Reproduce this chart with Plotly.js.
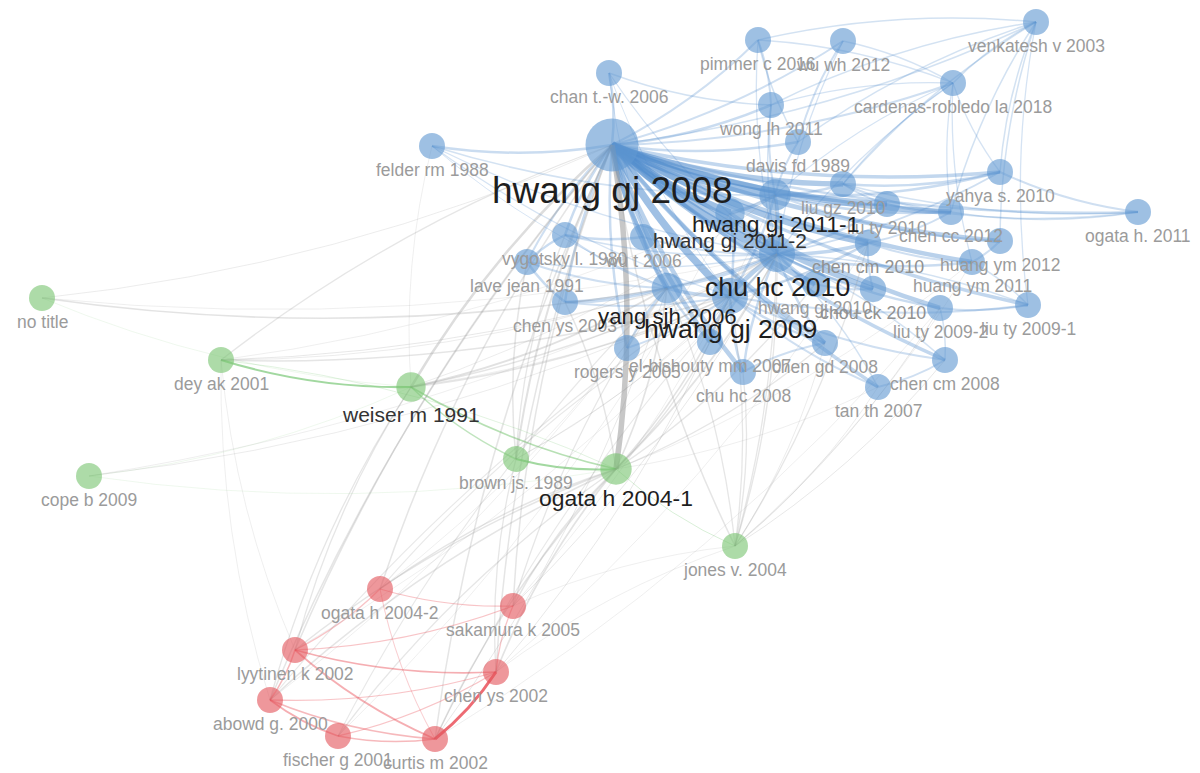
<!DOCTYPE html>
<html>
<head>
<meta charset="utf-8">
<script src="https://cdn.plot.ly/plotly-3.0.1.min.js"></script>
<style>html,body{margin:0;padding:0;background:#fff;}#chart{width:1200px;height:773px;}</style>
</head>
<body>
<div id="chart"></div>
<script>
// ---- data: nodes (map coordinates), weights, clusters ----
const nodeLabels = [
  "hwang gj 2008","felder rm 1988","chan t.-w. 2006","pimmer c 2016","wu wh 2012","venkatesh v 2003",
  "cardenas-robledo la 2018","wong lh 2011","davis fd 1989","yahya s. 2010","ogata h. 2011",
  "hwang gj 2011-1","hwang gj 2011-2","liu gz 2010","liu ty 2010","chen cc 2012","chen cm 2010",
  "huang ym 2012","huang ym 2011","chu hc 2010","hwang gj 2010","chou ck 2010","liu ty 2009-2",
  "liu ty 2009-1","chen cm 2008","tan th 2007","chen gd 2008","chu hc 2008","el-bishouty mm 2007",
  "hwang gj 2009","yang sjh 2006","rogers y 2005","chen ys 2003","lave jean 1991","vygotsky l. 1980",
  "wu t 2006",
  "no title","dey ak 2001","weiser m 1991","cope b 2009","brown js. 1989","ogata h 2004-1","jones v. 2004",
  "ogata h 2004-2","sakamura k 2005","lyytinen k 2002","chen ys 2002","abowd g. 2000","fischer g 2001","curtis m 2002"
];
const nodeX = [
  612,432,609,758,843,1036,
  953,771,798,1000,1138,
  775,730,843,887,951,868,
  1000,972,777,815,873,940,
  1028,945,878,825,743,710,
  730,667,627,565,527,565,
  643,
  42,221,411,89,516,616,735,
  380,513,295,496,270,338,435
];
const nodeY = [
  145,146,73,40,41,22,
  83,105,142,172,212,
  195,213,184,204,212,243,
  241,262,254,284,289,308,
  305,360,387,343,372,342,
  296,288,348,302,262,235,
  237,
  298,360,387,476,459,469,546,
  589,606,650,672,700,736,739
];
const nodeWeight = [
  100,20,20,20,20,20,
  20,20,20,20,20,
  36,30,20,20,20,21,
  20,20,50,20,21,20,
  20,20,20,20,20,20,
  50,34,20,20,20,20,
  20,
  20,20,30,20,20,36,20,
  20,20,20,20,20,20,20
];
const nodeCluster = [
  1,1,1,1,1,1,
  1,1,1,1,1,
  1,1,1,1,1,1,
  1,1,1,1,1,1,
  1,1,1,1,1,1,
  1,1,1,1,1,1,
  1,
  2,2,2,2,2,2,2,
  3,3,3,3,3,3,3
];

// ---- data: links [source, target, strength] ----
const links = [
  ["hwang gj 2008","hwang gj 2011-1",8],["hwang gj 2008","hwang gj 2011-2",7],["hwang gj 2008","chu hc 2010",8],
  ["hwang gj 2008","hwang gj 2009",7],["hwang gj 2008","yang sjh 2006",5],["hwang gj 2008","liu gz 2010",5],
  ["hwang gj 2008","liu ty 2010",5],["hwang gj 2008","chen cc 2012",5],["hwang gj 2008","chen cm 2010",6],
  ["hwang gj 2008","huang ym 2012",4],["hwang gj 2008","huang ym 2011",4],["hwang gj 2008","chou ck 2010",5],
  ["hwang gj 2008","liu ty 2009-2",4],["hwang gj 2008","liu ty 2009-1",3],["hwang gj 2008","chen gd 2008",4],
  ["hwang gj 2008","chen cm 2008",3],["hwang gj 2008","tan th 2007",3],["hwang gj 2008","chu hc 2008",4],
  ["hwang gj 2008","el-bishouty mm 2007",4],["hwang gj 2008","hwang gj 2010",5],["hwang gj 2008","yahya s. 2010",3],
  ["hwang gj 2008","ogata h. 2011",2],["hwang gj 2008","davis fd 1989",2],["hwang gj 2008","wong lh 2011",2],
  ["felder rm 1988","hwang gj 2008",2],["hwang gj 2008","chan t.-w. 2006",2],["hwang gj 2008","vygotsky l. 1980",2],
  ["hwang gj 2008","lave jean 1991",1.5],["hwang gj 2008","chen ys 2003",2],["hwang gj 2008","rogers y 2005",2],
  ["hwang gj 2008","wu t 2006",3],["hwang gj 2008","pimmer c 2016",1.5],["hwang gj 2008","wu wh 2012",1.5],
  ["hwang gj 2008","cardenas-robledo la 2018",1.5],["hwang gj 2008","venkatesh v 2003",1],
  ["ogata h 2004-1","hwang gj 2008",5],["hwang gj 2008","weiser m 1991",2],["hwang gj 2008","brown js. 1989",1.5],
  ["hwang gj 2008","jones v. 2004",1],["hwang gj 2008","lyytinen k 2002",1],["hwang gj 2008","chen ys 2002",1],
  ["hwang gj 2008","curtis m 2002",1],["hwang gj 2008","abowd g. 2000",1],["hwang gj 2008","ogata h 2004-2",1],
  ["hwang gj 2008","sakamura k 2005",1],["hwang gj 2008","dey ak 2001",0.8],
  ["chu hc 2010","hwang gj 2009",4],["chu hc 2010","hwang gj 2011-1",3],["chu hc 2010","hwang gj 2011-2",3],
  ["yang sjh 2006","chu hc 2010",2],["chu hc 2010","chen cm 2010",3],["chu hc 2010","liu ty 2010",2],
  ["chu hc 2010","chou ck 2010",2],["chu hc 2010","hwang gj 2010",3],["chu hc 2010","huang ym 2011",2],
  ["chu hc 2010","liu ty 2009-2",2],["chu hc 2010","chen gd 2008",2],["chu hc 2010","el-bishouty mm 2007",2],
  ["chu hc 2010","chu hc 2008",2],["vygotsky l. 1980","chu hc 2010",1],["lave jean 1991","chu hc 2010",1],
  ["chen ys 2003","chu hc 2010",1.5],["chu hc 2010","yahya s. 2010",1.5],["wu t 2006","chu hc 2010",1.5],
  ["yang sjh 2006","hwang gj 2009",3],["hwang gj 2009","hwang gj 2011-1",2],["hwang gj 2009","hwang gj 2011-2",2],
  ["hwang gj 2009","chen cm 2010",2],["hwang gj 2009","el-bishouty mm 2007",2],["hwang gj 2009","chu hc 2008",2],
  ["hwang gj 2009","chen gd 2008",2],["hwang gj 2009","tan th 2007",1.5],["hwang gj 2009","chen cm 2008",1.5],
  ["hwang gj 2009","liu ty 2009-1",1.5],["chen ys 2003","hwang gj 2009",1.5],["rogers y 2005","hwang gj 2009",1.5],
  ["hwang gj 2011-1","liu gz 2010",2],["hwang gj 2011-1","liu ty 2010",2],["hwang gj 2011-1","chen cc 2012",2],
  ["hwang gj 2011-1","yahya s. 2010",2],["hwang gj 2011-1","huang ym 2012",1.5],["hwang gj 2011-2","hwang gj 2011-1",3],
  ["davis fd 1989","hwang gj 2011-1",1.5],["wong lh 2011","hwang gj 2011-1",1.5],
  ["chen ys 2003","yang sjh 2006",2],["vygotsky l. 1980","yang sjh 2006",1.5],["lave jean 1991","yang sjh 2006",1.5],
  ["wu t 2006","yang sjh 2006",2],["yang sjh 2006","rogers y 2005",2],["yang sjh 2006","el-bishouty mm 2007",2],
  ["liu gz 2010","yahya s. 2010",2],["liu gz 2010","liu ty 2010",1.5],["liu gz 2010","chen cc 2012",1.5],
  ["liu gz 2010","ogata h. 2011",1],["vygotsky l. 1980","lave jean 1991",2],["vygotsky l. 1980","wu t 2006",2],
  ["lave jean 1991","chen ys 2003",2],["wong lh 2011","pimmer c 2016",1.5],["wu wh 2012","davis fd 1989",1.5],
  ["pimmer c 2016","davis fd 1989",1],["chan t.-w. 2006","wong lh 2011",1],["felder rm 1988","hwang gj 2011-1",1],
  ["yahya s. 2010","ogata h. 2011",1.5],["chen cc 2012","ogata h. 2011",1],["liu ty 2010","ogata h. 2011",1],
  ["venkatesh v 2003","davis fd 1989",1],["venkatesh v 2003","cardenas-robledo la 2018",1],["venkatesh v 2003","liu gz 2010",1],
  ["venkatesh v 2003","chen cc 2012",1],["venkatesh v 2003","yahya s. 2010",1],["venkatesh v 2003","huang ym 2012",1],
  ["venkatesh v 2003","wong lh 2011",1],["venkatesh v 2003","pimmer c 2016",1],["venkatesh v 2003","liu ty 2009-1",0.8],
  ["cardenas-robledo la 2018","hwang gj 2011-1",0.8],["cardenas-robledo la 2018","chu hc 2010",0.8],
  ["cardenas-robledo la 2018","liu gz 2010",0.8],["cardenas-robledo la 2018","yahya s. 2010",0.8],
  ["cardenas-robledo la 2018","wong lh 2011",0.8],["cardenas-robledo la 2018","pimmer c 2016",0.8],
  ["cardenas-robledo la 2018","wu wh 2012",0.8],["cardenas-robledo la 2018","chen cc 2012",0.8],
  ["cardenas-robledo la 2018","huang ym 2011",0.8],["tan th 2007","chen cm 2008",1.5],["chen gd 2008","chu hc 2008",1.5],
  ["liu ty 2009-2","liu ty 2009-1",1.5],["huang ym 2011","huang ym 2012",1.5],["liu ty 2009-1","huang ym 2011",1],
  ["chen cm 2008","liu ty 2009-2",1],["chen cm 2010","chou ck 2010",1.5],["hwang gj 2010","chou ck 2010",1.5],
  ["chen cm 2010","chen cc 2012",1.5],["chen cm 2010","huang ym 2011",1.5],["liu ty 2010","chen cc 2012",1.5],
  ["wu wh 2012","chu hc 2010",0.8],["pimmer c 2016","chu hc 2010",0.8],["wong lh 2011","chu hc 2010",1],
  ["tan th 2007","chu hc 2010",1],["chen cm 2008","chu hc 2010",1],["liu ty 2009-1","chu hc 2010",1],
  ["chan t.-w. 2006","chu hc 2010",0.8],["felder rm 1988","chu hc 2010",0.8],["felder rm 1988","hwang gj 2009",0.8],
  ["no title","yang sjh 2006",1.2],["dey ak 2001","hwang gj 2009",1],["dey ak 2001","weiser m 1991",1.6],
  ["weiser m 1991","yang sjh 2006",1.5],["weiser m 1991","chu hc 2010",1],["weiser m 1991","hwang gj 2009",1],
  ["weiser m 1991","ogata h 2004-1",1.2],["weiser m 1991","brown js. 1989",1],
  ["brown js. 1989","ogata h 2004-1",1.6],["vygotsky l. 1980","brown js. 1989",0.8],["lave jean 1991","brown js. 1989",1],
  ["ogata h 2004-1","hwang gj 2009",1.2],["ogata h 2004-1","chu hc 2010",1.2],["ogata h 2004-1","yang sjh 2006",1.2],
  ["ogata h 2004-1","chen ys 2003",1],["ogata h 2004-1","el-bishouty mm 2007",1],["ogata h 2004-1","jones v. 2004",0.5],
  ["ogata h 2004-1","dey ak 2001",0.4],["ogata h 2004-1","hwang gj 2010",0.8],["ogata h 2004-1","chen gd 2008",0.8],
  ["jones v. 2004","chu hc 2010",0.8],["jones v. 2004","hwang gj 2009",0.8],["jones v. 2004","chen cm 2010",0.8],
  ["jones v. 2004","hwang gj 2011-1",0.8],["jones v. 2004","chu hc 2008",0.8],["jones v. 2004","yang sjh 2006",0.8],
  ["ogata h 2004-1","lyytinen k 2002",1],["ogata h 2004-1","abowd g. 2000",1],["ogata h 2004-1","curtis m 2002",1],
  ["ogata h 2004-1","chen ys 2002",1.2],["ogata h 2004-1","sakamura k 2005",1],["ogata h 2004-1","fischer g 2001",0.8],
  ["ogata h 2004-1","ogata h 2004-2",1],["brown js. 1989","chen ys 2002",0.8],["weiser m 1991","lyytinen k 2002",0.8],
  ["weiser m 1991","abowd g. 2000",0.8],["yang sjh 2006","sakamura k 2005",0.8],["chu hc 2010","curtis m 2002",0.6],
  ["hwang gj 2009","ogata h 2004-2",0.6],["yang sjh 2006","fischer g 2001",0.6],["chu hc 2010","abowd g. 2000",0.6],
  ["lyytinen k 2002","chen ys 2002",1.2],["lyytinen k 2002","curtis m 2002",1.2],["abowd g. 2000","fischer g 2001",1.2],
  ["abowd g. 2000","curtis m 2002",1],["fischer g 2001","curtis m 2002",1],["curtis m 2002","chen ys 2002",2.5],
  ["abowd g. 2000","chen ys 2002",0.8],["ogata h 2004-2","sakamura k 2005",0.8],["lyytinen k 2002","sakamura k 2005",0.8],
  ["fischer g 2001","chen ys 2002",0.8],["abowd g. 2000","lyytinen k 2002",1],["ogata h 2004-2","curtis m 2002",0.6],
  ["lyytinen k 2002","ogata h 2004-2",0.8],["sakamura k 2005","chen ys 2002",0.8],
  ["cope b 2009","weiser m 1991",0.2],["cope b 2009","hwang gj 2009",0.4],["no title","hwang gj 2008",0.4],
  ["dey ak 2001","chu hc 2010",0.5],["jones v. 2004","liu ty 2009-2",0.5],["jones v. 2004","chen cm 2008",0.5],
  ["sakamura k 2005","chu hc 2010",0.5],["chen ys 2002","hwang gj 2009",0.5],["curtis m 2002","yang sjh 2006",0.5],
  ["cope b 2009","chu hc 2010",0.3],["cope b 2009","ogata h 2004-1",0.2],["no title","chu hc 2010",0.3],
  ["no title","weiser m 1991",0.2],["dey ak 2001","yang sjh 2006",0.4],["dey ak 2001","hwang gj 2011-1",0.3],
  ["dey ak 2001","lyytinen k 2002",0.3],["dey ak 2001","abowd g. 2000",0.3],["jones v. 2004","tan th 2007",0.4],
  ["jones v. 2004","chen gd 2008",0.4],["jones v. 2004","huang ym 2011",0.3],["jones v. 2004","chen ys 2002",0.3],
  ["jones v. 2004","sakamura k 2005",0.3],["sakamura k 2005","hwang gj 2011-1",0.3],["chen ys 2002","chen cm 2010",0.3],
  ["curtis m 2002","liu ty 2009-2",0.3],["fischer g 2001","hwang gj 2011-2",0.3],["abowd g. 2000","yang sjh 2006",0.3],
  ["lyytinen k 2002","chu hc 2010",0.3],["ogata h 2004-2","yang sjh 2006",0.3],["brown js. 1989","chu hc 2010",0.4],
  ["brown js. 1989","hwang gj 2009",0.4],["weiser m 1991","hwang gj 2011-1",0.4],["weiser m 1991","chen cm 2010",0.3],
  ["ogata h 2004-1","huang ym 2011",0.3],["ogata h 2004-1","tan th 2007",0.3],["felder rm 1988","weiser m 1991",0.3],
  ["chan t.-w. 2006","hwang gj 2009",0.5],["chan t.-w. 2006","yang sjh 2006",0.5],["felder rm 1988","yang sjh 2006",0.5]
];

// ---- rendering ----
const idx = {};
nodeLabels.forEach((l, i) => { idx[l] = i; });
const clusterRGB = {1: [98, 152, 210], 2: [122, 196, 114], 3: [228, 86, 92]};
const edgeRGB = {1: [80, 140, 205], 2: [90, 185, 85], 3: [232, 70, 80]};
const grayRGB = [150, 150, 150];
const diameter = w => 19.25 + 0.3375 * w;
const fontSize = w => 1.7 + 3.53 * Math.sqrt(w);
const rgba = (c, a) => `rgba(${c[0]},${c[1]},${c[2]},${a})`;

const shapes = links.map(([a, b, s]) => {
  const i = idx[a], j = idx[b];
  const x0 = nodeX[i], y0 = nodeY[i], x1 = nodeX[j], y1 = nodeY[j];
  const dx = x1 - x0, dy = y1 - y0;
  const k = 0.08;
  const cx = (x0 + x1) / 2 - k * dy, cy = (y0 + y1) / 2 + k * dx;
  const c = nodeCluster[i];
  const same = c === nodeCluster[j];
  const col = same ? edgeRGB[c] : grayRGB;
  let alpha;
  if (!same) alpha = Math.min(0.6, 0.18 + 0.07 * s);
  else if (c === 1) alpha = Math.min(0.55, 0.2 + 0.05 * s);
  else alpha = Math.min(0.8, 0.08 + 0.3 * s);
  return {
    type: 'path', xref: 'x', yref: 'y', layer: 'below',
    path: `M ${x0},${y0} Q ${cx},${cy} ${x1},${y1}`,
    line: {color: rgba(col, alpha), width: 0.5 + 1.0 * s}
  };
});

const nodeTrace = {
  type: 'scatter', mode: 'markers', hoverinfo: 'text',
  x: nodeX, y: nodeY, text: nodeLabels,
  marker: {
    size: nodeWeight.map(diameter),
    color: nodeCluster.map(c => rgba(clusterRGB[c], 0.88)),
    line: {width: 0}
  }
};

const order = nodeLabels.map((_, i) => i).sort((a, b) => nodeWeight[a] - nodeWeight[b]);
const annotations = order.map(i => {
  const w = nodeWeight[i];
  const f = fontSize(w);
  const t = Math.max(0, Math.min(1, (w - 20) / 12));
  const g = Math.round(155 - 125 * t);
  return {
    x: nodeX[i], y: nodeY[i], xref: 'x', yref: 'y',
    text: nodeLabels[i], showarrow: false,
    xanchor: 'center', yanchor: 'middle',
    yshift: -(diameter(w) / 2 + 0.4 * f + 4),
    font: {family: 'Liberation Sans, Arial, Helvetica, sans-serif', size: f, color: `rgb(${g},${g},${g})`}
  };
});

const layout = {
  width: 1200, height: 773,
  margin: {l: 0, r: 0, t: 0, b: 0},
  paper_bgcolor: '#ffffff', plot_bgcolor: '#ffffff',
  showlegend: false,
  xaxis: {range: [0, 1200], visible: false, fixedrange: true},
  yaxis: {range: [773, 0], visible: false, fixedrange: true},
  shapes: shapes,
  annotations: annotations
};

Plotly.newPlot('chart', [nodeTrace], layout, {displayModeBar: false, staticPlot: true});
</script>
</body>
</html>
